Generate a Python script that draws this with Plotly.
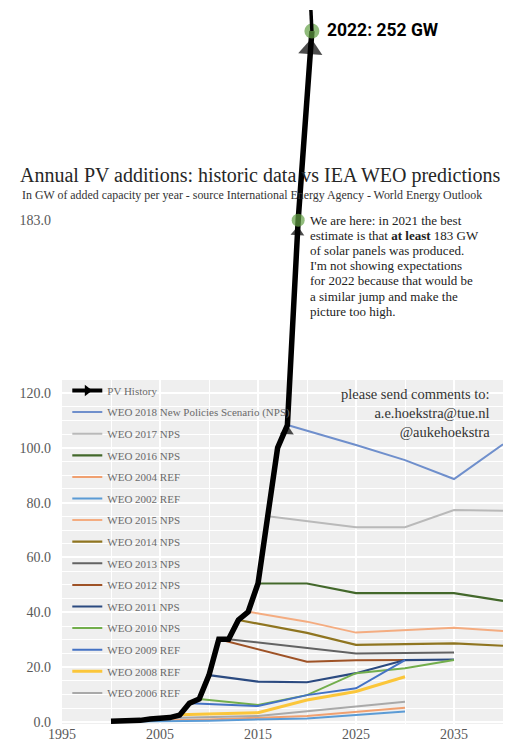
import plotly.graph_objects as go

# ---------------- data ----------------
# Historic annual PV additions (GW); the last two points are the 2021 and 2022 estimates
pv_x = [2000, 2001, 2002, 2003, 2004, 2005, 2006, 2007, 2008, 2009, 2010,
        2011, 2012, 2013, 2014, 2015, 2016, 2017, 2018, 2019.1, 2020.5]
pv_gw = [0.3, 0.3, 0.5, 0.6, 1.1, 1.4, 1.6, 2.5, 6.8, 8.4, 17.1,
         30.2, 30.2, 37.2, 40.2, 50.5, 75.0, 100.0, 108.3, 183.0, 252.0]

# IEA World Energy Outlook projections (GW added per year)
weo_names = [
    "WEO 2018 New Policies Scenario (NPS)", "WEO 2017 NPS", "WEO 2016 NPS",
    "WEO 2004 REF", "WEO 2002 REF", "WEO 2015 NPS", "WEO 2014 NPS",
    "WEO 2013 NPS", "WEO 2012 NPS", "WEO 2011 NPS", "WEO 2010 NPS",
    "WEO 2009 REF", "WEO 2008 REF", "WEO 2006 REF",
]
weo_years = [
    [2018, 2025, 2030, 2035, 2040],
    [2016, 2025, 2030, 2035, 2040],
    [2015, 2020, 2025, 2030, 2035, 2040],
    [2002, 2010, 2020, 2030],
    [2000, 2010, 2020, 2030],
    [2014, 2020, 2025, 2030, 2035, 2040],
    [2013, 2020, 2025, 2030, 2035, 2040],
    [2012, 2020, 2025, 2030, 2035],
    [2011, 2020, 2025, 2030],
    [2010, 2015, 2020, 2025, 2030, 2035],
    [2009, 2015, 2020, 2025, 2030, 2035],
    [2008, 2015, 2020, 2025, 2030],
    [2007, 2015, 2020, 2025, 2030],
    [2005, 2015, 2030],
]
weo_gw = [
    [108.3, 101.0, 95.5, 88.6, 101.3],
    [75.0, 71.0, 71.0, 77.3, 77.0],
    [50.5, 50.5, 47.0, 47.0, 47.0, 44.2],
    [0.4, 0.9, 2.2, 5.2],
    [0.1, 0.5, 1.3, 3.8],
    [40.2, 36.6, 32.6, 33.5, 34.4, 33.2],
    [37.2, 32.5, 28.1, 28.3, 28.7, 27.8],
    [30.2, 27.0, 25.0, 25.2, 25.3],
    [30.2, 22.0, 22.5, 22.6],
    [17.1, 14.7, 14.5, 17.8, 22.6, 22.8],
    [8.4, 6.2, 9.8, 17.8, 19.6, 22.6],
    [6.8, 5.8, 9.8, 12.3, 22.6],
    [2.6, 3.4, 8.0, 11.1, 16.5],
    [1.4, 2.2, 7.4],
]
weo_colors = [
    "#6f8fcc", "#b9b9b9", "#43682b", "#f0a070", "#5b9bd5", "#f4ac80",
    "#8f7520", "#626262", "#9e5226", "#2b4a80", "#72ae4c", "#4472c4",
    "#fbc63a", "#a9a9a9",
]
weo_widths = [2, 2, 2.2, 2, 2, 2, 2.2, 2, 2, 2.2, 2, 2, 3, 2]

y_ticks = [0, 20, 40, 60, 80, 100, 120, 183]
x_ticks = [1995, 2005, 2015, 2025, 2035]

estimate_lines = [
    "We are here: in 2021 the best",
    "estimate is that <b>at least</b> 183 GW",
    "of solar panels was produced.",
    "I'm not showing expectations",
    "for 2022 because that would be",
    "a similar jump and make the",
    "picture too high.",
]

SERIF = "Liberation Serif, Times New Roman, serif"
GREEN = "#62a044"

fig = go.Figure()

# legend-only entry for the historic series (arrow symbol)
fig.add_trace(go.Scatter(
    x=[None], y=[None], mode="lines+markers", name="PV History",
    line=dict(color="black", width=4),
    marker=dict(symbol="triangle-right", size=10, color="black"),
    legendgroup="pv",
))

for name, xs, ys, col, w in zip(weo_names, weo_years, weo_gw, weo_colors, weo_widths):
    fig.add_trace(go.Scatter(
        x=xs, y=ys, mode="lines", name=name,
        line=dict(color=col, width=w),
        legendgroup=name, hoverinfo="x+y+name",
    ))

# historic line
fig.add_trace(go.Scatter(
    x=pv_x, y=pv_gw, mode="lines", showlegend=False,
    line=dict(color="black", width=5.5),
))

# arrowheads on the 2018, 2021 and 2022 points; standoff pulls the upper two below their dots
fig.add_trace(go.Scatter(
    x=pv_x[-3:], y=pv_gw[-3:], mode="markers", showlegend=False, hoverinfo="skip",
    marker=dict(symbol="triangle-up", size=[12, 12, 21], angle=[3, 3, 4],
                standoff=[6, 12, 18], color="black", line=dict(width=0)),
))

# green dots on the 2021 and 2022 estimates
fig.add_trace(go.Scatter(
    x=pv_x[-2:], y=pv_gw[-2:], mode="markers", showlegend=False,
    marker=dict(color=GREEN, size=[13, 15], line=dict(width=0)),
))

# short continuation of the line above the 2022 dot
fig.add_shape(type="line", xref="x", yref="y",
              xsizemode="pixel", xanchor=pv_x[-1], x0=0, x1=-1,
              ysizemode="pixel", yanchor=pv_gw[-1], y0=0, y1=21,
              line=dict(color="black", width=3.5), layer="above")

# gray plotting panel limited to the historic range of the chart
fig.add_shape(type="rect", xref="x", yref="y", x0=1995, x1=2040, y0=-0.8, y1=125,
              fillcolor="#efefef", line=dict(width=0), layer="below")

# value label for 2022
fig.add_annotation(x=pv_x[-1], y=pv_gw[-1], xref="x", yref="y",
                   text="<b>2022: 252 GW</b>", showarrow=False,
                   xanchor="left", xshift=13, yshift=1,
                   font=dict(family="Roboto, DejaVu Sans Condensed, sans-serif",
                             size=17.5, color="black"))

# explanatory note next to the 2021 dot
for i, line in enumerate(estimate_lines):
    fig.add_annotation(x=pv_x[-2], y=pv_gw[-2], xref="x", yref="y",
                       text=line, showarrow=False, xanchor="left", yanchor="middle",
                       xshift=10, yshift=-15.2 * i,
                       font=dict(family=SERIF, size=13, color="#222222"))

# subtitle
fig.add_annotation(x=-0.095, y=1 - 195 / 724, xref="paper", yref="paper",
                   text="In GW of added capacity per year - source International Energy Agency - World Energy Outlook",
                   showarrow=False, xanchor="left", yanchor="middle",
                   font=dict(family=SERIF, size=11.9, color="#333333"))

# contact note
fig.add_annotation(x=0.974, y=1 - 384 / 724, xref="paper", yref="paper",
                   text="please send comments to:<br>a.e.hoekstra@tue.nl<br>@aukehoekstra",
                   showarrow=False, xanchor="right", yanchor="top", align="right",
                   font=dict(family=SERIF, size=14.5, color="#333333"))

fig.update_layout(
    width=506, height=746,
    margin=dict(l=62, r=3, t=0, b=22),
    paper_bgcolor="white", plot_bgcolor="white",
    title=dict(text="Annual PV additions: historic data vs IEA WEO predictions",
               x=20 / 506, xanchor="left", xref="container",
               y=1 - 175 / 746, yanchor="middle", yref="container",
               font=dict(family=SERIF, size=20, color="#262626")),
    showlegend=True,
    legend=dict(x=0.012, y=1 - 376 / 724, xanchor="left", yanchor="top",
                bgcolor="rgba(0,0,0,0)", tracegroupgap=2.6,
                font=dict(family=SERIF, size=11, color="#6a6a6a")),
    xaxis=dict(range=[1995, 2040], tickvals=x_ticks, ticktext=[str(v) for v in x_ticks],
               showgrid=True, gridcolor="white", gridwidth=1.5,
               minor=dict(dtick=5, tick0=1995, showgrid=True, gridcolor="white", gridwidth=1),
               zeroline=False, showline=False,
               tickfont=dict(family=SERIF, size=14, color="#595959")),
    yaxis=dict(range=[-0.73, 263.3], tickvals=y_ticks, ticktext=[f"{v:.1f}" for v in y_ticks],
               showgrid=True, gridcolor="white", gridwidth=1.5,
               minor=dict(dtick=5, tick0=0, showgrid=True, gridcolor="white", gridwidth=1),
               zeroline=False, showline=False, ticklabelstandoff=10,
               tickfont=dict(family=SERIF, size=14, color="#595959")),
)

fig.write_html("out.html")
